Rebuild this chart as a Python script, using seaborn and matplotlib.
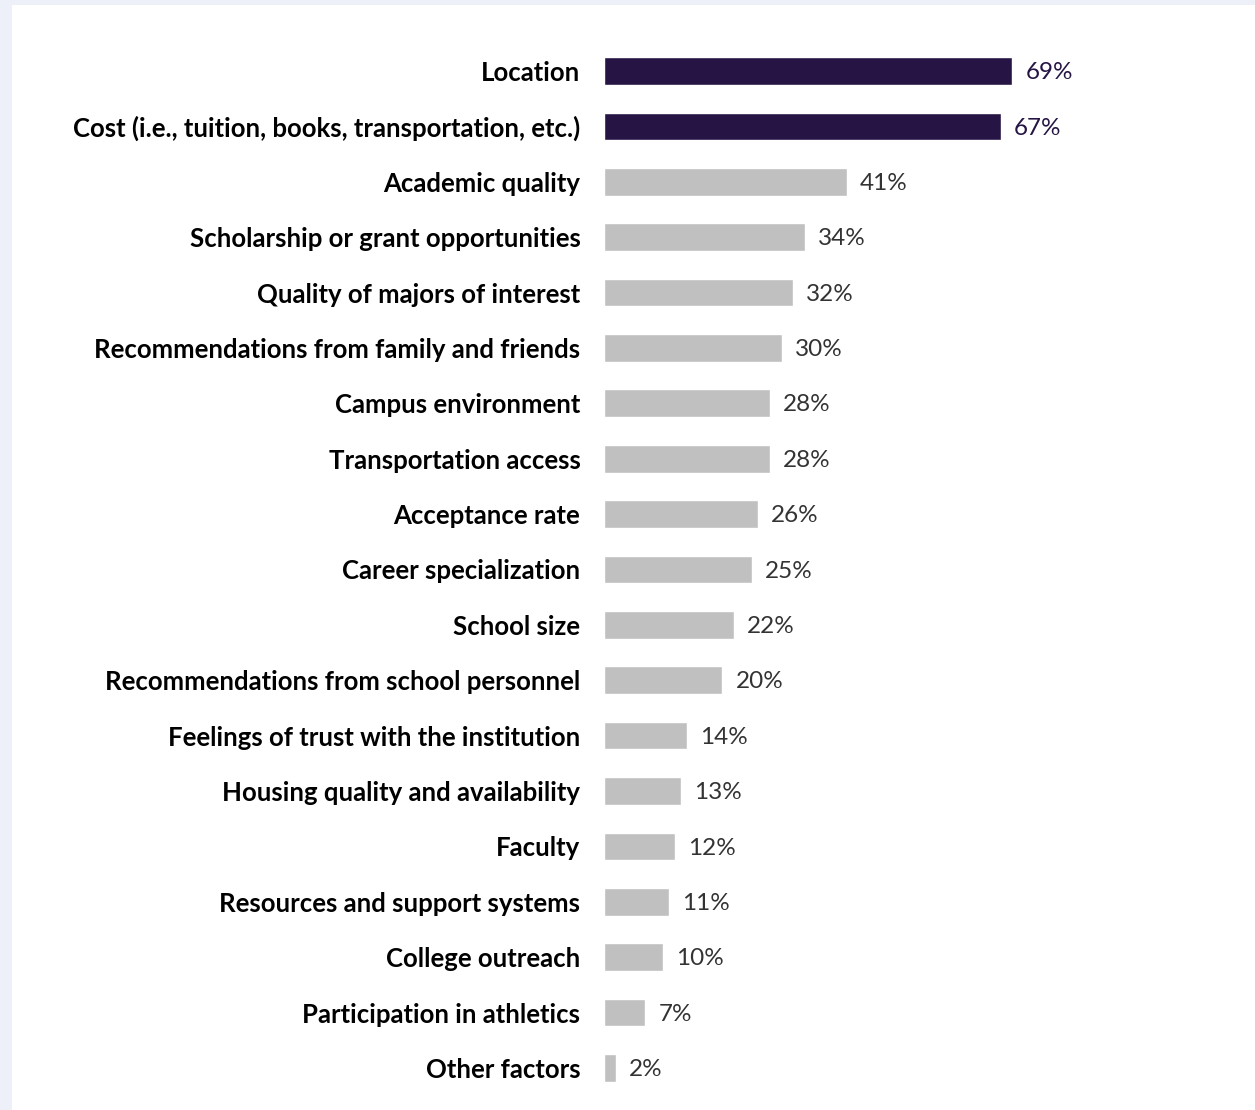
import matplotlib
matplotlib.use("Agg")
import matplotlib.pyplot as plt
from matplotlib.patches import Rectangle
import seaborn as sns
import pandas as pd

factors = [
    "Location",
    "Cost (i.e., tuition, books, transportation, etc.)",
    "Academic quality",
    "Scholarship or grant opportunities",
    "Quality of majors of interest",
    "Recommendations from family and friends",
    "Campus environment",
    "Transportation access",
    "Acceptance rate",
    "Career specialization",
    "School size",
    "Recommendations from school personnel",
    "Feelings of trust with the institution",
    "Housing quality and availability",
    "Faculty",
    "Resources and support systems",
    "College outreach",
    "Participation in athletics",
    "Other factors",
]
shares = [69, 67, 41, 34, 32, 30, 28, 28, 26, 25, 22, 20, 14, 13, 12, 11, 10, 7, 2]
top_factors = ["Location", "Cost (i.e., tuition, books, transportation, etc.)"]

DARK = "#261544"
GREY = "#c0c0c0"

df = pd.DataFrame({"factor": factors, "share": shares})
df["group"] = ["top" if f in top_factors else "other" for f in factors]

sns.set_theme(style="white")
plt.rcParams["font.family"] = ["Lato", "DejaVu Sans"]

fig = plt.figure(figsize=(12.55, 11.10), dpi=100, facecolor="#edf0f8")
fig.patches.append(Rectangle((12 / 1255, 0), 1 - 12 / 1255, 1 - 5 / 1110,
                             transform=fig.transFigure, facecolor="white",
                             edgecolor="none", zorder=-10))

ax = fig.add_axes([604 / 1255, 0.0129, 1 - 604 / 1255, 0.961 - 0.0129])
ax.set_facecolor("none")
ax.set_zorder(5)

sns.barplot(data=df, x="share", y="factor", hue="group",
            palette={"top": DARK, "other": GREY}, dodge=False,
            width=0.5, legend=False, ax=ax, saturation=1)

ax.set_xlim(0, 110)
ax.set_ylim(18.5, -0.5)
ax.set_xlabel("")
ax.set_ylabel("")
ax.set_xticks([])
ax.tick_params(axis="y", length=0, pad=17)
for lbl in ax.get_yticklabels():
    lbl.set_fontsize(18.5)
    lbl.set_fontweight("bold")
    lbl.set_color("black")
for s in ax.spines.values():
    s.set_visible(False)

for i, (f, v) in enumerate(zip(factors, shares)):
    col = DARK if f in top_factors else "#333333"
    ax.text(v + 2.2, i + 0.03, f"{v}%", va="center", ha="left",
            fontsize=17.5, fontweight="normal", color=col)

fig.savefig("out.png", dpi=100, facecolor=fig.get_facecolor())
